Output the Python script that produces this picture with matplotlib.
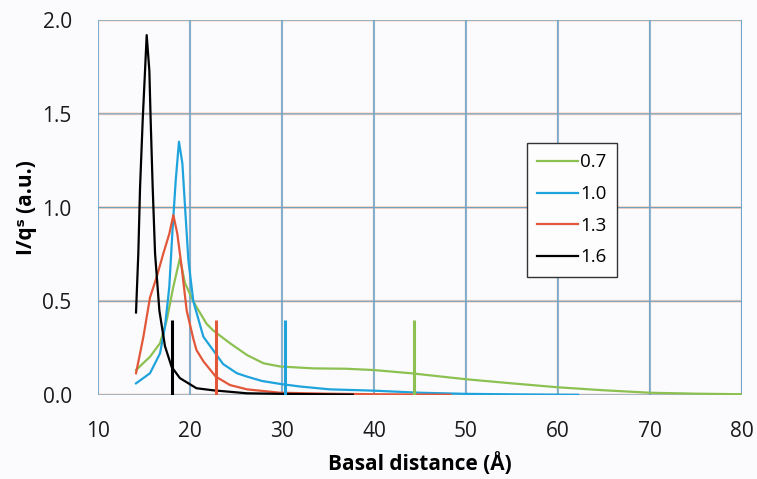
import matplotlib
matplotlib.use("Agg")
import matplotlib.pyplot as plt

plt.rcParams["font.family"] = ["Open Sans", "DejaVu Sans"]

# ── data ──
x_07 = [14.13, 15.65, 16.74, 17.47, 18.19, 18.9, 19.46, 20.36, 20.7, 21.8, 22.5, 24.35, 26.2, 28.0,
        29.8, 33.4, 37.0, 40.0, 44.0, 50.0, 55.0, 60.0, 65.0, 70.0, 75.0, 80.0]
y_07 = [0.133, 0.204, 0.276, 0.40, 0.578, 0.729, 0.596, 0.50, 0.47, 0.38, 0.345, 0.276, 0.213, 0.169,
        0.152, 0.142, 0.14, 0.133, 0.116, 0.084, 0.062, 0.041, 0.025, 0.012, 0.007, 0.004]

x_10 = [14.13, 15.65, 16.74, 17.28, 17.75, 18.12, 18.45, 18.8, 19.17, 19.46, 19.82, 20.36, 21.45,
        22.5, 23.6, 25.1, 26.2, 27.8, 29.8, 32.0, 35.2, 40.0, 45.0, 50.0, 56.0, 62.2]
y_10 = [0.062, 0.116, 0.222, 0.364, 0.578, 0.898, 1.147, 1.351, 1.236, 1.004, 0.72, 0.50, 0.311,
        0.24, 0.165, 0.116, 0.098, 0.075, 0.059, 0.045, 0.030, 0.023, 0.012, 0.006, 0.003, 0.001]

x_13 = [14.13, 14.93, 15.65, 16.38, 17.1, 17.75, 18.19, 18.62, 19.1, 19.64, 20.36, 20.7, 21.45,
        22.8, 24.35, 26.2, 29.8, 35.0, 40.0, 48.3]
y_13 = [0.116, 0.31, 0.52, 0.63, 0.755, 0.86, 0.96, 0.86, 0.68, 0.45, 0.30, 0.24, 0.18,
        0.098, 0.053, 0.030, 0.012, 0.007, 0.004, 0.001]

x_16 = [14.13, 14.38, 14.57, 14.86, 15.11, 15.29, 15.58, 15.72, 15.94, 16.2, 16.67, 17.28, 18.0,
        18.9, 20.7, 22.5, 26.2, 30.0, 37.7]
y_16 = [0.44, 0.755, 1.11, 1.47, 1.73, 1.92, 1.73, 1.47, 1.11, 0.755, 0.45, 0.26, 0.15,
        0.09, 0.036, 0.025, 0.009, 0.006, 0.002]

labels = ["0.7", "1.0", "1.3", "1.6"]
marker_x = [44.4, 30.3, 22.8, 18.0]   # vertical marks, one per series
marker_h = 0.4

colors = ["#8cc152", "#1fa3dc", "#e2573a", "#000000"]
x_ticks = [10, 20, 30, 40, 50, 60, 70, 80]
y_ticks = [0.0, 0.5, 1.0, 1.5, 2.0]

fig = plt.figure(figsize=(7.57, 4.79), dpi=100, facecolor="#fbfbfd")
ax = fig.add_axes([0.1295, 0.1754, 0.8505, 0.7826])
ax.set_facecolor("#fbfbfd")

# gridlines: blue core with faint salmon halo, like the source
for xv in x_ticks:
    ax.axvline(xv, color="#f7dacd", linewidth=1.8, zorder=0, snap=False)
    ax.axvline(xv, color="#4f9fd0", linewidth=1.0, zorder=0.5, snap=False)
for yv in y_ticks:
    ax.axhline(yv, color="#f5d0c2", linewidth=2.0, zorder=0, snap=False)
    ax.axhline(yv, color="#6fa2bd", linewidth=0.8, zorder=0.5, snap=False)

series = [(x_07, y_07), (x_10, y_10), (x_13, y_13), (x_16, y_16)]
for (xs, ys), lab, c in zip(series, labels, colors):
    ax.plot(xs, ys, color=c, linewidth=1.6, label=lab, zorder=3,
            solid_joinstyle="round")

for xv, c in zip(marker_x, colors):
    ax.vlines(xv, 0, marker_h, color=c, linewidth=2.2, zorder=4)

ax.set_xlim(10, 80)
ax.set_ylim(0, 2.0)
ax.set_xticks(x_ticks)
ax.set_yticks(y_ticks)
ax.set_yticklabels([f"{v:.1f}" for v in y_ticks])
ax.tick_params(length=0, labelsize=15, colors="#1a1a1a")
ax.tick_params(axis="x", pad=19)
ax.tick_params(axis="y", pad=19)
for s in ax.spines.values():
    s.set_visible(False)

ax.set_xlabel("Basal distance (Å)", fontsize=15, fontweight="bold", labelpad=7)
ax.set_ylabel("I/qˢ (a.u.)", fontsize=15, fontweight="bold", labelpad=4)

leg = ax.legend(loc="upper left", bbox_to_anchor=(0.666, 0.672), fontsize=13.5,
                frameon=True, fancybox=False, handlelength=2.2, handletextpad=0.1,
                labelspacing=0.73, borderpad=0.55, borderaxespad=0)
leg.get_frame().set_edgecolor("#333333")
leg.get_frame().set_linewidth(1.0)
leg.get_frame().set_facecolor("#fdfdfd")
leg.get_frame().set_alpha(1)

fig.savefig("out.png", dpi=100, facecolor=fig.get_facecolor())
